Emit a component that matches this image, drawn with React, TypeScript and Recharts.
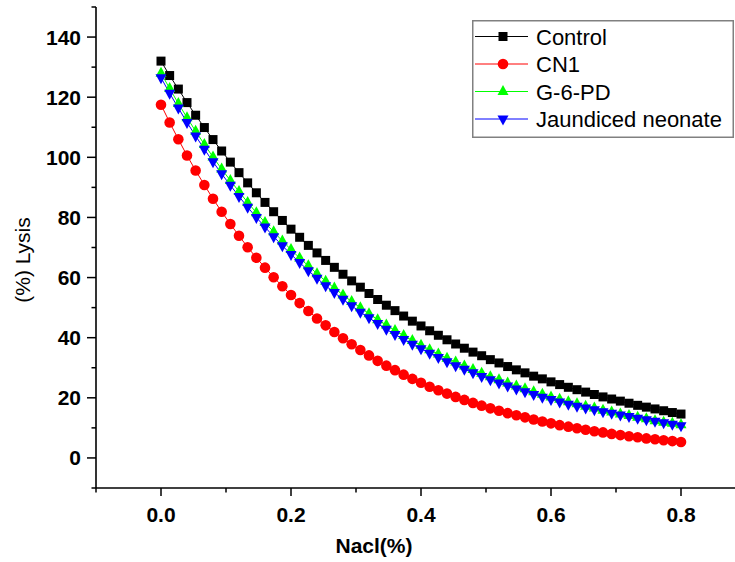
import { LineChart, Line, XAxis, YAxis, Legend } from "recharts";

// NaCl concentration (%) at each measured point
const NACL = [
  0, 0.0133, 0.0267, 0.04, 0.0533, 0.0667, 0.08, 0.0933, 0.1067, 0.12, 0.1333,
  0.1467, 0.16, 0.1733, 0.1867, 0.2, 0.2133, 0.2267, 0.24, 0.2533, 0.2667, 0.28,
  0.2933, 0.3067, 0.32, 0.3333, 0.3467, 0.36, 0.3733, 0.3867, 0.4, 0.4133,
  0.4267, 0.44, 0.4533, 0.4667, 0.48, 0.4933, 0.5067, 0.52, 0.5333, 0.5467,
  0.56, 0.5733, 0.5867, 0.6, 0.6133, 0.6267, 0.64, 0.6533, 0.6667, 0.68,
  0.6933, 0.7067, 0.72, 0.7333, 0.7467, 0.76, 0.7733, 0.7867, 0.8,
];

const CONTROL = [
  132.0, 127.2, 122.7, 118.2, 114.0, 109.9, 105.9, 102.1, 98.4, 94.9, 91.5,
  88.2, 85.0, 81.9, 79.0, 76.1, 73.4, 70.7, 68.2, 65.7, 63.4, 61.1, 58.9, 56.8,
  54.7, 52.7, 50.8, 49.0, 47.2, 45.5, 43.9, 42.3, 40.8, 39.3, 37.9, 36.5, 35.2,
  34.0, 32.7, 31.6, 30.4, 29.3, 28.3, 27.2, 26.3, 25.3, 24.4, 23.5, 22.7, 21.9,
  21.1, 20.3, 19.6, 18.9, 18.2, 17.5, 16.9, 16.3, 15.7, 15.1, 14.6,
];

const CN1 = [
  117.5, 111.6, 106.0, 100.6, 95.6, 90.8, 86.2, 81.9, 77.8, 73.9, 70.1, 66.6,
  63.3, 60.1, 57.1, 54.2, 51.5, 48.9, 46.4, 44.1, 41.9, 39.8, 37.8, 35.9, 34.1,
  32.3, 30.7, 29.2, 27.7, 26.3, 25.0, 23.7, 22.5, 21.4, 20.3, 19.3, 18.3, 17.4,
  16.5, 15.7, 14.9, 14.2, 13.5, 12.8, 12.1, 11.5, 10.9, 10.4, 9.9, 9.4, 8.9,
  8.5, 8.0, 7.6, 7.2, 6.9, 6.5, 6.2, 5.9, 5.6, 5.3,
];

const G6PD = [
  128.0, 122.9, 117.9, 113.2, 108.7, 104.3, 100.1, 96.1, 92.3, 88.6, 85.0,
  81.6, 78.3, 75.2, 72.2, 69.3, 66.5, 63.9, 61.3, 58.8, 56.5, 54.2, 52.0, 50.0,
  48.0, 46.0, 44.2, 42.4, 40.7, 39.1, 37.5, 36.0, 34.6, 33.2, 31.9, 30.6, 29.4,
  28.2, 27.0, 26.0, 24.9, 23.9, 23.0, 22.0, 21.2, 20.3, 19.5, 18.7, 18.0, 17.2,
  16.6, 15.9, 15.3, 14.6, 14.1, 13.5, 13.0, 12.4, 11.9, 11.5, 11.0,
];

const JAUNDICED = [
  126.5, 121.3, 116.4, 111.6, 107.1, 102.7, 98.5, 94.5, 90.7, 87.0, 83.4, 80.0,
  76.8, 73.6, 70.6, 67.7, 65.0, 62.3, 59.8, 57.3, 55.0, 52.8, 50.6, 48.5, 46.6,
  44.7, 42.8, 41.1, 39.4, 37.8, 36.3, 34.8, 33.4, 32.0, 30.7, 29.5, 28.3, 27.1,
  26.0, 24.9, 23.9, 22.9, 22.0, 21.1, 20.2, 19.4, 18.6, 17.9, 17.2, 16.6, 16.0,
  15.4, 14.9, 14.3, 13.8, 13.2, 12.7, 12.2, 11.7, 11.2, 10.7,
];

const X_MAJOR = [0, 0.2, 0.4, 0.6, 0.8];
const X_MINOR = [-0.1, 0.1, 0.3, 0.5, 0.7, 0.9];
const Y_MAJOR = [0, 20, 40, 60, 80, 100, 120, 140];
const Y_MINOR = [-10, 10, 30, 50, 70, 90, 110, 130, 150];

const data = NACL.map((nacl, i) => ({
  nacl,
  control: CONTROL[i],
  cn1: CN1[i],
  g6pd: G6PD[i],
  jaundiced: JAUNDICED[i],
}));

const FONT = '"Liberation Sans", Arial, Helvetica, sans-serif';

// marker shapes, origin style
function marker(kind: string, cx: number, cy: number, key?: any) {
  if (kind === "square")
    return <rect key={key} x={cx - 4.5} y={cy - 4.5} width={9} height={9} fill="#000" />;
  if (kind === "circle") return <circle key={key} cx={cx} cy={cy} r={5.3} fill="#ff0000" />;
  if (kind === "up")
    return (
      <polygon
        key={key}
        points={`${cx},${cy - 6.5} ${cx - 5.5},${cy + 3.5} ${cx + 5.5},${cy + 3.5}`}
        fill="#00ff00"
      />
    );
  return (
    <polygon
      key={key}
      points={`${cx - 5.5},${cy - 3.5} ${cx + 5.5},${cy - 3.5} ${cx},${cy + 6.5}`}
      fill="#0000ff"
    />
  );
}

const SERIES_ORDER = ["control", "cn1", "g6pd", "jaundiced"];
const SHAPES: Record<string, string> = {
  control: "square",
  cn1: "circle",
  g6pd: "up",
  jaundiced: "down",
};

const dotOf = (kind: string) => (p: any) => marker(kind, p.cx, p.cy, `${kind}-${p.index}`);

function XTick({ x, y, payload }: any) {
  const major = X_MAJOR.includes(payload.value);
  return (
    <g>
      <line x1={x} x2={x} y1={y} y2={y + (major ? 8 : 4.5)} stroke="#000" strokeWidth={1.5} />
      {major && (
        <text x={x} y={y + 34} textAnchor="middle" fontFamily={FONT} fontWeight="bold" fontSize={21} fill="#000">
          {payload.value.toFixed(1)}
        </text>
      )}
    </g>
  );
}

function YTick({ x, y, payload }: any) {
  const major = Y_MAJOR.includes(payload.value);
  return (
    <g>
      <line x1={x - (major ? 9 : 4.5)} x2={x} y1={y} y2={y} stroke="#000" strokeWidth={1.5} />
      {major && (
        <text x={x - 15} y={y + 7.5} textAnchor="end" fontFamily={FONT} fontWeight="bold" fontSize={21} fill="#000">
          {payload.value}
        </text>
      )}
    </g>
  );
}

const XTitle = () => (
  <text x={374} y={553} textAnchor="middle" fontFamily={FONT} fontWeight="bold" fontSize={21} fill="#000">
    Nacl(%)
  </text>
);

const YTitle = () => (
  <text
    transform="translate(22,260) rotate(-90)"
    textAnchor="middle"
    dominantBaseline="central"
    fontFamily={FONT}
    fontSize={21}
    fill="#000"
  >
    (%) Lysis
  </text>
);

function LegendBox({ payload }: any) {
  const items = [...(payload || [])].sort(
    (a: any, b: any) => SERIES_ORDER.indexOf(a.dataKey) - SERIES_ORDER.indexOf(b.dataKey)
  );
  return (
    <svg width={262} height={118} style={{ display: "block" }}>
      <rect x={0.75} y={0.75} width={260.5} height={116.5} fill="#fff" stroke="#808080" strokeWidth={1.5} />
      {items.map((p: any, i: number) => {
        const cy = 16.5 + i * 27.5;
        return (
          <g key={p.value}>
            <line x1={3} x2={56} y1={cy} y2={cy} stroke={p.color} strokeWidth={1} />
            {marker(SHAPES[p.dataKey], 31, cy)}
            <text x={64} y={cy + 8} fontFamily={FONT} fontSize={22} fill="#000">
              {p.value}
            </text>
          </g>
        );
      })}
    </svg>
  );
}

export default function App() {
  return (
    <div
      style={{
        position: "absolute",
        left: 0,
        top: 0,
        width: 735,
        height: 562,
        overflow: "hidden",
        background: "#fff",
      }}
    >
      <LineChart width={760} height={562} data={data} margin={{ top: 7, right: 14, bottom: 0, left: 0 }}>
        <XAxis
          dataKey="nacl"
          type="number"
          domain={[-0.1, 0.9]}
          ticks={[...X_MINOR, ...X_MAJOR].sort((a, b) => a - b)}
          interval={0}
          height={74}
          tick={<XTick />}
          tickLine={false}
          tickSize={0}
          tickMargin={0}
          axisLine={{ stroke: "#000", strokeWidth: 1.6 }}
          label={XTitle}
        />
        <XAxis
          xAxisId="top"
          orientation="top"
          type="number"
          dataKey="nacl"
          domain={[-0.1, 0.9]}
          height={0}
          tick={false}
          tickLine={false}
          axisLine={{ stroke: "#000", strokeWidth: 1.6 }}
        />
        <YAxis
          type="number"
          domain={[-10, 150]}
          ticks={[...Y_MINOR, ...Y_MAJOR].sort((a, b) => a - b)}
          interval={0}
          width={96}
          tick={<YTick />}
          tickLine={false}
          tickSize={0}
          tickMargin={0}
          axisLine={{ stroke: "#000", strokeWidth: 1.6 }}
          label={YTitle}
        />
        <Legend
          layout="vertical"
          align="center"
          verticalAlign="middle"
          content={<LegendBox />}
          wrapperStyle={{ left: 472, top: 20, width: 262, height: 118 }}
        />
        <Line name="Control" dataKey="control" stroke="#000000" strokeWidth={1} dot={dotOf("square")} isAnimationActive={false} />
        <Line name="CN1" dataKey="cn1" stroke="#ff0000" strokeWidth={1} dot={dotOf("circle")} isAnimationActive={false} />
        <Line name="G-6-PD" dataKey="g6pd" stroke="#00ff00" strokeWidth={1} dot={dotOf("up")} isAnimationActive={false} />
        <Line name="Jaundiced neonate" dataKey="jaundiced" stroke="#0000ff" strokeWidth={1} dot={dotOf("down")} isAnimationActive={false} />
      </LineChart>
    </div>
  );
}
